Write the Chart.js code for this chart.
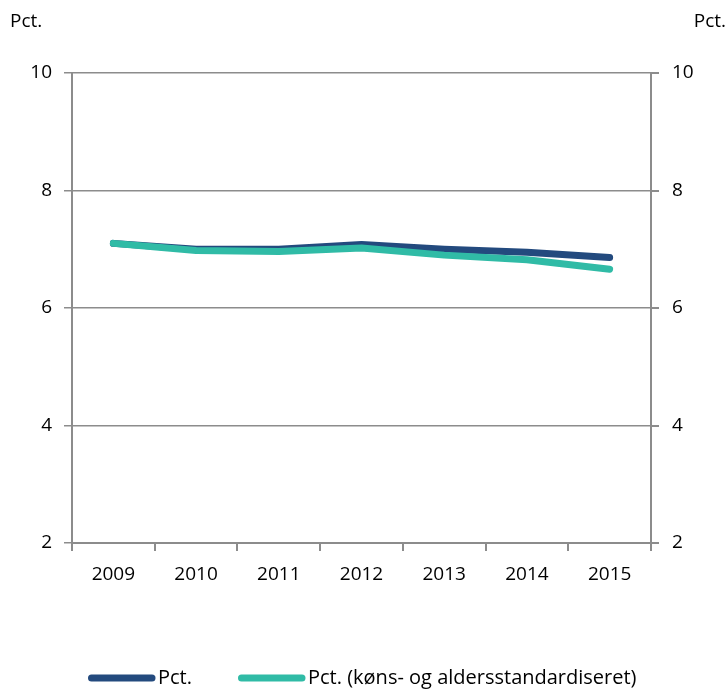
<!DOCTYPE html>
<html lang="no">
<head>
<meta charset="UTF-8">
<title>Pct.</title>
<script src="https://cdn.jsdelivr.net/npm/chart.js"></script>
<style>
  html, body { margin: 0; padding: 0; background: #fff; }
  #wrap { width: 727px; height: 690px; }
</style>
</head>
<body>
<div id="wrap"><canvas id="graf" width="727" height="690"></canvas></div>
<script>
// data lest av fra figuren
var aar = ['2009', '2010', '2011', '2012', '2013', '2014', '2015'];
var pct = [7.10, 7.00, 7.00, 7.08, 7.00, 6.95, 6.86];
var pctStd = [7.10, 6.98, 6.96, 7.02, 6.90, 6.82, 6.66];
var serieNavn = ['Pct.', 'Pct. (køns- og aldersstandardiseret)'];
var yTicks = [2, 4, 6, 8, 10];

var farger = ['#234a7e', '#30bba6'];
var grid = '#8c8c8c';
var skrift = { family: 'Open Sans', size: 19 };

// egen tegnforklaring og "Pct." over aksene
var ekstra = {
  id: 'ekstra',
  afterDraw: function (chart) {
    var ctx = chart.ctx;
    ctx.save();
    ctx.font = '19px "Open Sans"';
    ctx.fillStyle = '#000';
    ctx.textBaseline = 'middle';
    ctx.textAlign = 'left';
    ctx.fillText('Pct.', 10, 22);
    ctx.textAlign = 'right';
    ctx.fillText('Pct.', 726, 22);

    // tegnforklaring
    ctx.font = '20px "Open Sans"';
    var y = 678, x = 88;
    chart.data.datasets.forEach(function (ds, i) {
      ctx.strokeStyle = ds.borderColor;
      ctx.lineWidth = 7;
      ctx.lineCap = 'round';
      ctx.beginPath();
      ctx.moveTo(x + 3.5, y);
      ctx.lineTo(x + 64, y);
      ctx.stroke();
      ctx.textAlign = 'left';
      ctx.fillStyle = '#000';
      ctx.fillText(ds.label, x + 70, y);
      x += 70 + ctx.measureText(ds.label).width + 46;
    });
    ctx.restore();
  }
};

new Chart(document.getElementById('graf'), {
  type: 'line',
  data: {
    labels: aar,
    datasets: [
      { label: serieNavn[0], data: pct, borderColor: farger[0], backgroundColor: farger[0], order: 1 },
      { label: serieNavn[1], data: pctStd, borderColor: farger[1], backgroundColor: farger[1], order: 0 }
    ]
  },
  options: {
    responsive: false,
    animation: false,
    layout: { padding: { top: 73, right: 0, bottom: 0, left: 0 } },
    elements: {
      line: { borderWidth: 7, tension: 0, borderCapStyle: 'round', borderJoinStyle: 'round' },
      point: { radius: 0 }
    },
    plugins: {
      legend: { display: false },
      tooltip: { enabled: false }
    },
    scales: {
      x: {
        offset: true,
        grid: { offset: true, drawOnChartArea: false, color: grid, lineWidth: 2, tickLength: 8 },
        border: { color: grid, width: 2 },
        ticks: { color: '#000', font: skrift, padding: 12, maxRotation: 0 },
        afterFit: function (s) { s.height = 147; }
      },
      y: {
        position: 'left',
        min: 2, max: 10,
        afterBuildTicks: function (s) { s.ticks = yTicks.map(function (v) { return { value: v }; }); },
        grid: { color: grid, lineWidth: 1.5, tickLength: 8 },
        border: { color: grid, width: 2 },
        ticks: { color: '#000', font: skrift, padding: 12 },
        afterFit: function (s) { s.width = 72; }
      },
      y2: {
        position: 'right',
        min: 2, max: 10,
        afterBuildTicks: function (s) { s.ticks = yTicks.map(function (v) { return { value: v }; }); },
        grid: { drawOnChartArea: false, color: grid, lineWidth: 2, tickLength: 8 },
        border: { color: grid, width: 2 },
        ticks: { color: '#000', font: skrift, padding: 13 },
        afterFit: function (s) { s.width = 76; }
      }
    }
  },
  plugins: [ekstra]
});
</script>
</body>
</html>
